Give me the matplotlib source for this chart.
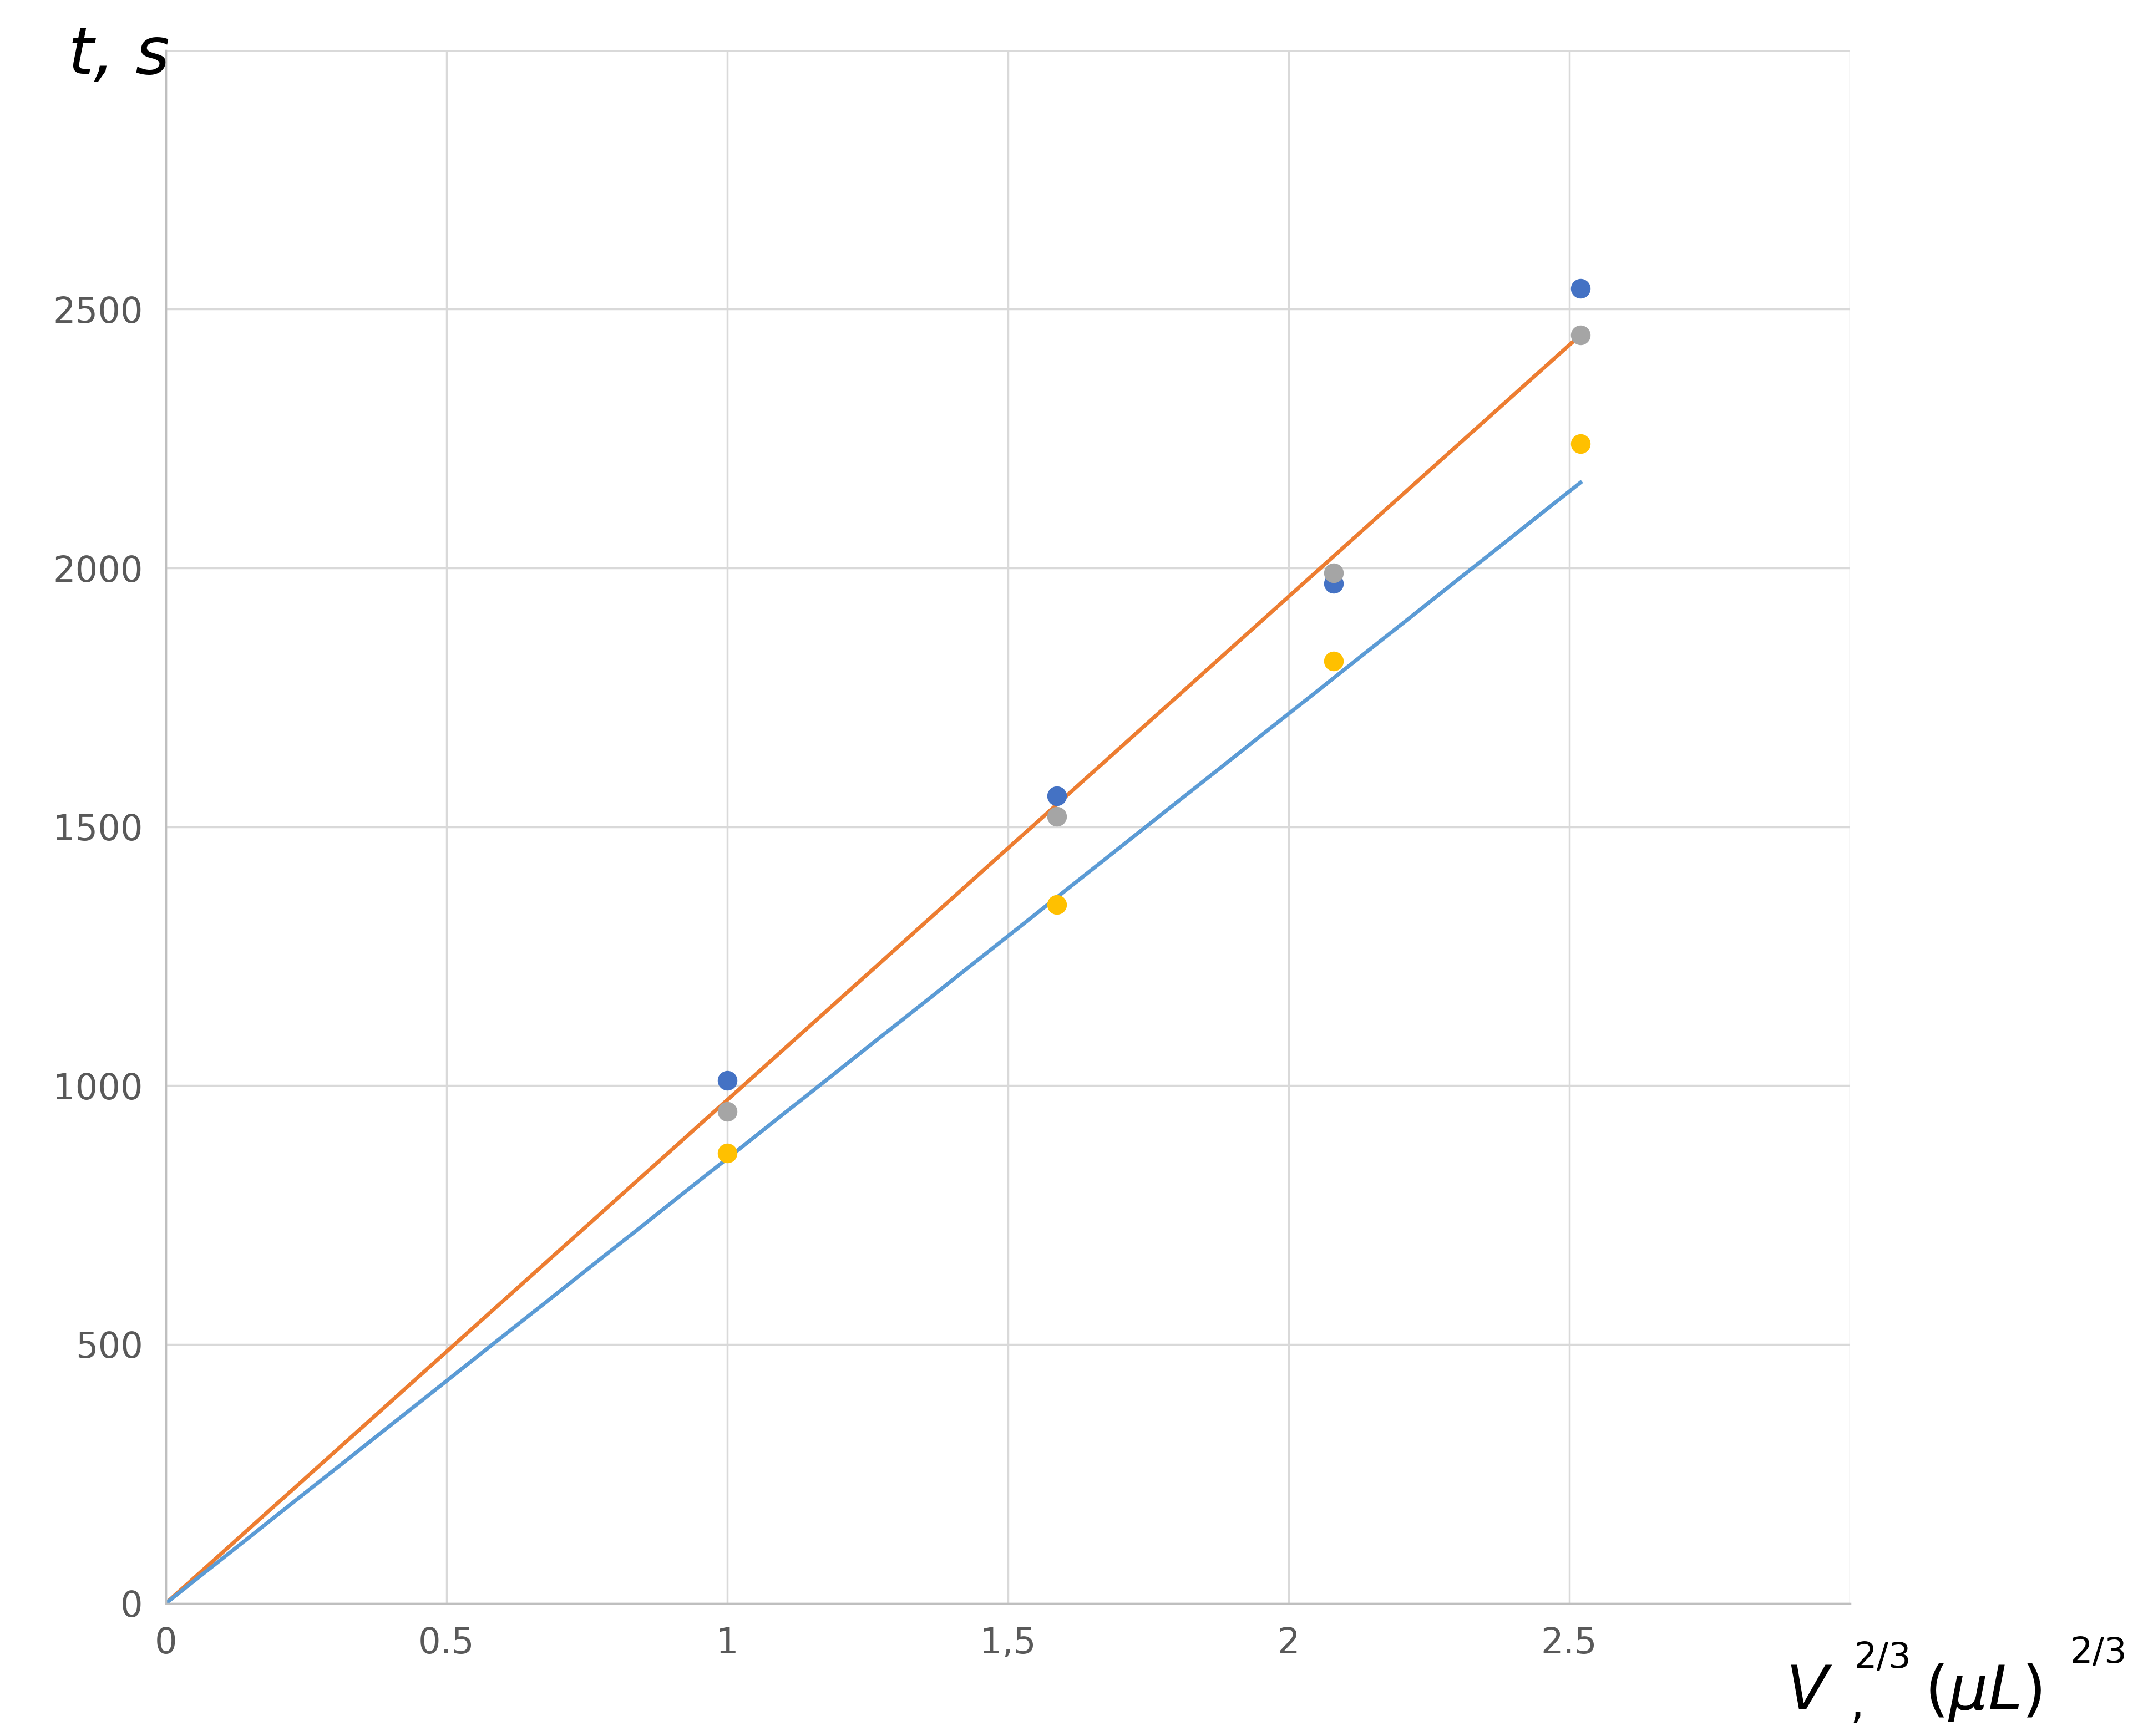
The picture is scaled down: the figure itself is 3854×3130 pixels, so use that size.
import matplotlib
matplotlib.use("Agg")
import matplotlib.pyplot as plt
import numpy as np

x_vals = [1.0, 1.587, 2.08, 2.52]
blue_pts = [1010, 1560, 1970, 2540]
gray_pts = [950, 1520, 1990, 2450]
yellow_pts = [870, 1350, 1820, 2240]
fit_x = [0, 2.52]
orange_fit = [0, 2450]
blue_fit = [0, 2165]
xticks = [0, 0.5, 1, 1.5, 2, 2.5]
xticklabels = ["0", "0.5", "1", "1,5", "2", "2.5"]
yticks = [0, 500, 1000, 1500, 2000, 2500]

fig = plt.figure(figsize=(38.55, 31.30), dpi=100)
ax = fig.add_axes([0.0776, 0.0765, 0.7874, 0.8945])
ax.set_xlim(0, 3)
ax.set_ylim(0, 3000)
ax.set_xticks(xticks + [3])
ax.set_xticklabels(xticklabels + [""])
ax.set_yticks(yticks + [3000])
ax.set_yticklabels([str(v) for v in yticks] + [""])
ax.grid(True, color="#d9d9d9", lw=2.5)
for s in ["top", "right"]:
    ax.spines[s].set_visible(False)
for s in ["left", "bottom"]:
    ax.spines[s].set_color("#bfbfbf")
    ax.spines[s].set_linewidth(2.5)
ax.tick_params(length=0, labelsize=46, labelcolor="#595959", pad=30)
ax.set_axisbelow(True)

ax.plot(fit_x, orange_fit, color="#ed7d31", lw=5)
ax.plot(fit_x, blue_fit, color="#5b9bd5", lw=5)
ms = 600
ax.scatter(x_vals, blue_pts, s=ms, color="#4472c4", zorder=3)
ax.scatter(x_vals, gray_pts, s=ms, color="#a5a5a5", zorder=3)
ax.scatter(x_vals, yellow_pts, s=ms, color="#ffc000", zorder=3)

fig.text(0.032, 0.968, "t, s", fontsize=85, style="italic", va="center", ha="left")
fig.text(0.835, 0.025, "V", fontsize=80, style="italic", va="center", ha="left")
fig.text(0.867, 0.045, "2/3", fontsize=46, va="center", ha="left")
fig.text(0.865, 0.018, ",", fontsize=60, va="center", ha="left")
fig.text(0.900, 0.025, r"$(\mu L)$", fontsize=80, va="center", ha="left")
fig.text(0.968, 0.048, "2/3", fontsize=46, va="center", ha="left")

fig.savefig("out.png", dpi=100)
